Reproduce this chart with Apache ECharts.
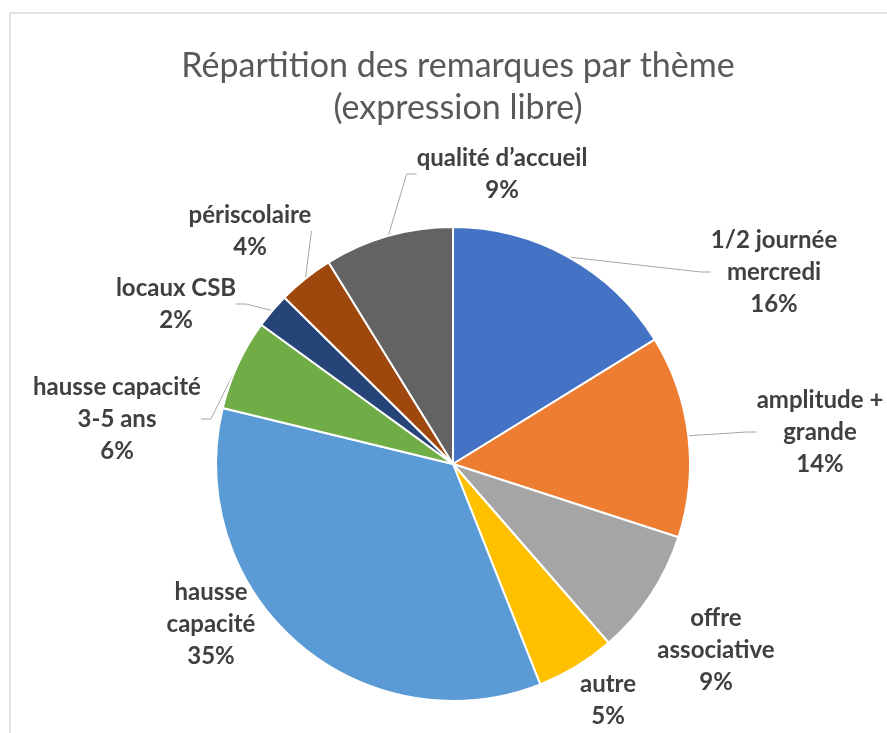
<!DOCTYPE html>
<html>
<head>
<meta charset="utf-8">
<title>Répartition des remarques par thème</title>
<script src="https://cdn.jsdelivr.net/npm/echarts@6/dist/echarts.min.js"></script>
<style>
	html, body { margin: 0; padding: 0; background: #fff; }
	#chart { width: 887px; height: 733px; }
</style>
</head>
<body>
<div id="chart"></div>
<script>
	// themes, clockwise from 12 o'clock (line breaks as in the labels)
	var themes = ['1/2 journée\nmercredi', 'amplitude +\ngrande', 'offre\nassociative', 'autre',
		'hausse\ncapacité', 'hausse capacité\n3-5 ans', 'locaux CSB', 'périscolaire', 'qualité d’accueil'];
	// share of remarks
	var shares = [16.2, 13.8, 8.6, 5.4, 34.8, 6.2, 2.4, 3.8, 8.8];
	var colors = ['#4472C4', '#ED7D31', '#A5A5A5', '#FFC000', '#5B9BD5', '#70AD47', '#264478', '#9E480E', '#636363'];
	// labels that sit next to their slice, no leader line
	var noLeader = [2, 3, 4];

	// where each label block is centred (Excel "best fit")
	var labelCenters = [[774, 272], [820, 432], [716, 650], [608, 700], [211, 624],
		[117, 419], [176, 304], [250, 231], [502, 174]];

	var pieData = [];
	for (var i = 0; i < themes.length; i++) {
		pieData.push({
			name: themes[i],
			value: shares[i],
			itemStyle: { color: colors[i] },
			labelLine: { show: noLeader.indexOf(i) < 0 }
		});
	}

	var myChart = echarts.init(document.getElementById('chart'));
	var option = {
		animation: false,
		textStyle: { fontFamily: 'Lato, "DejaVu Sans", sans-serif' },
		title: {
			text: 'Répartition des remarques par thème\n(expression libre)',
			left: 453,
			top: 40,
			textAlign: 'center',
			textStyle: {
				fontFamily: 'Lato, sans-serif',
				fontSize: 34,
				fontWeight: 'normal',
				color: '#595959',
				lineHeight: 42
			}
		},
		graphic: [{
			type: 'rect',
			shape: { x: 10, y: 13, width: 900, height: 800 },
			style: { fill: 'none', stroke: '#d9d9d9', lineWidth: 1.5 },
			silent: true
		}],
		series: [{
			name: 'remarques',
			type: 'pie',
			center: [453, 464],
			radius: 237,
			startAngle: 90,
			clockwise: true,
			avoidLabelOverlap: false,
			itemStyle: { borderColor: '#fff', borderWidth: 2 },
			label: {
				show: true,
				position: 'outside',
				fontFamily: 'Lato, sans-serif',
				fontSize: 24,
				fontWeight: 'bold',
				color: '#404040',
				lineHeight: 32,
				formatter: function (p) {
					return p.name + '\n' + Math.round(p.percent) + '%';
				}
			},
			labelLine: {
				show: true,
				length: 10,
				length2: 10,
				lineStyle: { color: '#a6a6a6', width: 1 }
			},
			labelLayout: function (p) {
				var c = labelCenters[p.dataIndex];
				return { x: c[0], y: c[1], align: 'center', verticalAlign: 'middle' };
			},
			data: pieData
		}]
	};
	myChart.setOption(option);
</script>
</body>
</html>
